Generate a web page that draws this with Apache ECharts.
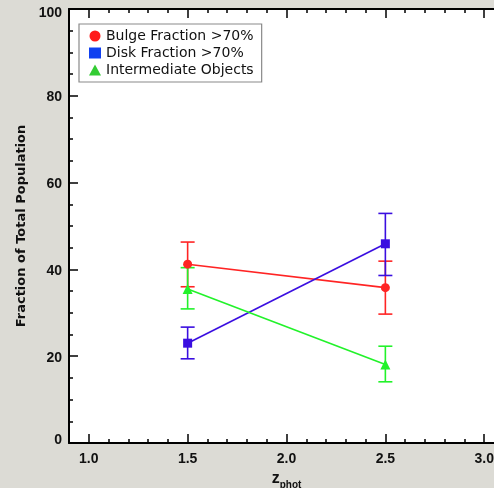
<!DOCTYPE html>
<html>
<head>
<meta charset="utf-8">
<script src="https://cdn.jsdelivr.net/npm/echarts@6/dist/echarts.min.js"></script>
<style>
html,body{margin:0;padding:0;background:#dcdbd5;overflow:hidden;width:494px;height:488px;}
#c{width:504px;height:488px;}
</style>
</head>
<body>
<div id="c"></div>
<script>
// ---- data ----
var zValues = [1.5, 2.5];
var bulgeFrac = [41.2, 35.8];
var bulgeLow  = [36.0, 29.7];
var bulgeHigh = [46.3, 41.9];
var diskFrac  = [23.0, 45.9];
var diskLow   = [19.4, 38.6];
var diskHigh  = [26.7, 52.9];
var interFrac = [35.5, 18.1];
var interLow  = [30.9, 14.1];
var interHigh = [40.4, 22.3];
var xMajorTicks = [1.0, 1.5, 2.0, 2.5, 3.0];
var seriesNames = ['Bulge Fraction >70%', 'Disk Fraction >70%', 'Intermediate Objects'];

var RED = '#ff2424', BLUE = '#3a0ee0', GREEN = '#22f22a';
var FONT = 'DejaVu Sans';
var TICKFONT = 'Liberation Sans';

function pts(vals){ return zValues.map(function(x,i){ return [x, vals[i]]; }); }
function errs(lo, hi){ return zValues.map(function(x,i){ return [x, lo[i], hi[i]]; }); }

function errSeries(lo, hi, color){
  return {
    type: 'custom',
    xAxisIndex: 0, yAxisIndex: 0,
    z: 2,
    silent: true,
    data: errs(lo, hi),
    renderItem: function(params, api){
      var x = api.value(0);
      var pLo = api.coord([x, api.value(1)]);
      var pHi = api.coord([x, api.value(2)]);
      var hw = 7;
      var st = {stroke: color, lineWidth: 1.6};
      return {
        type: 'group',
        children: [
          {type:'line', shape:{x1:pLo[0], y1:pLo[1], x2:pHi[0], y2:pHi[1]}, style: st},
          {type:'line', shape:{x1:pLo[0]-hw, y1:pLo[1], x2:pLo[0]+hw, y2:pLo[1]}, style: st},
          {type:'line', shape:{x1:pHi[0]-hw, y1:pHi[1], x2:pHi[0]+hw, y2:pHi[1]}, style: st}
        ]
      };
    }
  };
}

function lineSeries(name, vals, color, symbol, size){
  return {
    name: name, type: 'line', xAxisIndex: 0, yAxisIndex: 0,
    data: pts(vals), symbol: symbol, symbolSize: size, showSymbol: true,
    z: 3,
    lineStyle: {color: color, width: 1.6},
    itemStyle: {color: color},
    emphasis: {disabled: true}
  };
}

var isMajor = function(v){ return Math.abs(v*2 - Math.round(v*2)) < 1e-6; };

var baseX = {
  type: 'value', min: 0.9, max: 3.1,
  splitLine: {show: false},
  axisLine: {show: true, onZero: false, lineStyle: {color: '#000', width: 2}},
};

var tickTxt = {fontFamily: TICKFONT, fontWeight: 'bold', fontSize: 14, color: '#111'};

var option = {
  animation: false,
  backgroundColor: '#dcdbd5',
  grid: {left: 69, top: 9, right: 0, bottom: 45, show: true, backgroundColor: '#ffffff', borderWidth: 0,
         outerBoundsMode: 'none', containLabel: false},
  legend: {
    orient: 'vertical', left: 79, top: 24,
    padding: [5, 8, 5, 10],
    itemGap: 3, itemWidth: 12, itemHeight: 11,
    backgroundColor: '#ffffff', borderColor: '#8a8a8a', borderWidth: 1.2,
    textStyle: {fontFamily: FONT, fontSize: 14, color: '#111'},
    data: [
      {name: seriesNames[0], icon: 'circle', itemStyle: {color: '#ff1a1a'}},
      {name: seriesNames[1], icon: 'rect', itemStyle: {color: '#1040f0'}},
      {name: seriesNames[2], icon: 'triangle', itemStyle: {color: '#33cc33'}}
    ],
    selectedMode: false
  },
  xAxis: [
    Object.assign({}, baseX, {
      position: 'bottom', interval: 0.1,
      axisTick: {show: true, inside: true, length: 4, lineStyle: {color: '#000', width: 1.5}},
      axisLabel: {show: true, margin: 9, fontFamily: TICKFONT, fontWeight: 'bold', fontSize: 14, color: '#111',
        formatter: function(v){ return isMajor(v) ? v.toFixed(1) : ''; }},
      name: '{z|z}{s|phot}', nameLocation: 'middle', nameGap: 22,
      nameTextStyle: {rich: {
        z: {fontFamily: TICKFONT, fontWeight: 'bold', fontSize: 16, lineHeight: 18, color: '#111', verticalAlign: 'top'},
        s: {fontFamily: TICKFONT, fontWeight: 'bold', fontSize: 10, lineHeight: 10, color: '#111', verticalAlign: 'top', padding: [9,0,0,0]}
      }}
    }),
    Object.assign({}, baseX, {
      position: 'bottom',
      axisLine: {show: false},
      axisTick: {show: true, inside: true, length: 9, customValues: xMajorTicks, lineStyle: {color: '#000', width: 1.5}},
      axisLabel: {show: false}
    }),
    Object.assign({}, baseX, {
      position: 'top', interval: 0.1,
      axisTick: {show: true, inside: true, length: 4, lineStyle: {color: '#000', width: 1.5}},
      axisLabel: {show: false}
    }),
    Object.assign({}, baseX, {
      position: 'top',
      axisLine: {show: false},
      axisTick: {show: true, inside: true, length: 9, customValues: xMajorTicks, lineStyle: {color: '#000', width: 1.5}},
      axisLabel: {show: false}
    })
  ],
  yAxis: [
    {
      type: 'value', min: 0, max: 100, interval: 20, position: 'left',
      splitLine: {show: false},
      axisLine: {show: true, onZero: false, lineStyle: {color: '#000', width: 2}},
      axisTick: {show: true, inside: true, length: 9, lineStyle: {color: '#000', width: 1.5}},
      minorTick: {show: true, splitNumber: 4, length: 4, lineStyle: {color: '#000', width: 1.5}},
      axisLabel: {margin: 7,
        formatter: function(v){
          if (v === 100) return '{t|' + v + '}';
          if (v === 0) return '{b|' + v + '}';
          return '{a|' + v + '}';
        },
        rich: {
          a: Object.assign({padding: [3, 0, 0, 0]}, tickTxt),
          t: Object.assign({padding: [8, 0, 0, 0]}, tickTxt),
          b: Object.assign({padding: [0, 0, 6, 0]}, tickTxt)
        }
      },
      name: 'Fraction of Total Population', nameLocation: 'middle', nameGap: 41,
      nameTextStyle: {fontFamily: FONT, fontWeight: 'bold', fontSize: 13, color: '#111'}
    }
  ],
  series: [
    errSeries(bulgeLow, bulgeHigh, RED),
    errSeries(diskLow, diskHigh, BLUE),
    errSeries(interLow, interHigh, GREEN),
    lineSeries(seriesNames[0], bulgeFrac, RED, 'circle', 9),
    lineSeries(seriesNames[1], diskFrac, BLUE, 'rect', 9),
    lineSeries(seriesNames[2], interFrac, GREEN, 'triangle', 10)
  ]
};

var chart = echarts.init(document.getElementById('c'), null, {renderer: 'canvas'});
chart.setOption(option);
</script>
</body>
</html>
